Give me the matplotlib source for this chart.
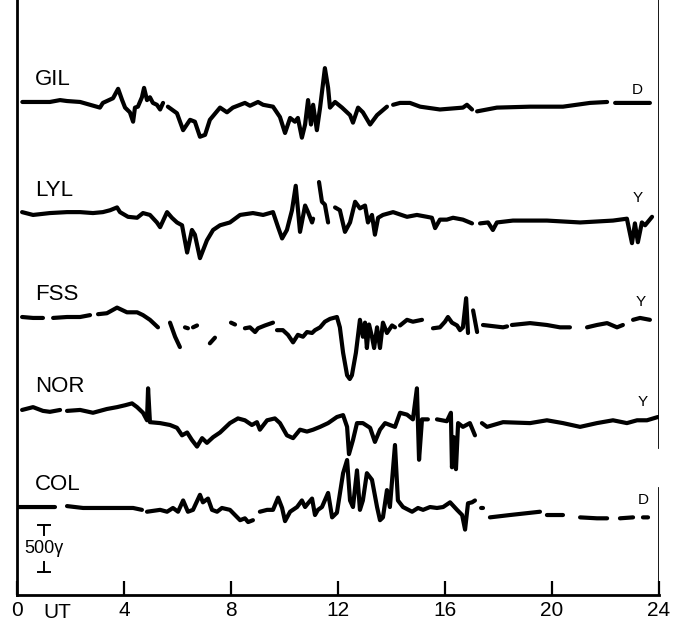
import numpy as np
import matplotlib
matplotlib.use('Agg')
from matplotlib import pyplot as plt

nan = np.nan

# UT hours and deflection in gamma (NaN = gap in the trace)
gil_t = [0.2, 1.23, 1.61, 1.87, 2.36, 3.10, 3.21, 3.59, 3.78, 3.93, 4.04, 4.22, 4.34, 4.41, 4.52, 4.67,
         4.75, 4.86, 4.97, 5.08, 5.23, 5.35, 5.46, nan,
         5.64, 5.98, 6.21, 6.47, 6.65, 6.84, 7.03, 7.21, 7.59, 7.85, 8.07, 8.52, 8.71, 9.01, 9.20, 9.57,
         9.83, 10.02, 10.21, 10.39, 10.50, 10.65, 10.77, 10.88, 10.99, 11.07, 11.21, 11.33, 11.51, 11.63,
         11.70, 11.89, 12.15, 12.45, 12.56, 12.75, 12.93, 13.20, 13.46, 13.83, nan,
         14.06, 14.32, 14.69, 15.07, 15.81, 16.67, 16.82, 17.01, nan,
         17.20, 17.94, 19.18, 20.41, 21.42, 22.06, nan, 22.36, 23.66]
gil_d = [0, 0, 20, 10, 0, -60, -10, 40, 140, 20, -60, -110, -210, -60, -50, 50,
         150, 20, 50, -10, -30, -80, -10, nan,
         -50, -120, -300, -190, -210, -370, -350, -190, -60, -110, -60, -10, -40, 0, -30, -50,
         -160, -330, -170, -210, -170, -380, -240, 20, -240, -30, -300, -60, 360, 150,
         -60, 0, -60, -140, -220, -60, -110, -240, -140, -50, nan,
         -30, -10, -10, -50, -80, -60, -30, -80, nan,
         -100, -60, -50, -50, -10, 0, nan, -10, -10]

lyl_t = [0.19, 0.60, 1.23, 1.87, 2.36, 2.84, 3.21, 3.48, 3.74, 3.85, 4.15, 4.49, 4.71, 4.97, 5.23, 5.35,
         5.61, 5.79, 5.98, 6.17, 6.36, 6.54, 6.65, 6.84, 7.10, 7.33, 7.59, 7.96, 8.34, 8.82, 9.20, 9.57,
         9.76, 9.91, 10.09, 10.28, 10.42, 10.58, 10.77, 10.88, 11.03, 11.07, nan,
         11.29, 11.40, 11.51, 11.63, nan,
         11.89, 12.07, 12.26, 12.45, 12.64, 12.82, 13.01, 13.12, 13.27, 13.38, 13.50, 13.68, 14.06, 14.58,
         14.95, 15.33, 15.51, 15.63, 15.81, 16.07, 16.30, 16.67, 17.01, nan,
         17.31, 17.61, 17.79, 17.94, 18.54, 19.81, 21.05, 22.28, 22.80, 22.99, 23.10, 23.21, 23.36,
         23.48, 23.74]
lyl_d = [10, -20, 0, 10, 10, 0, 10, 30, 60, 10, -40, -50, 0, -20, -100, -150,
         10, -50, -100, -130, -420, -180, -230, -480, -290, -180, -130, -100, -20, 0, -20, 10,
         -150, -270, -180, 30, 290, -200, 80, 10, -100, -60, nan,
         330, 120, 90, -100, nan,
         60, 30, -200, -100, 120, 50, 80, -100, -20, -230, -50, -20, 10, -40,
         -20, -40, -50, -160, -70, -70, -50, -70, -110, nan,
         -110, -100, -180, -100, -80, -80, -100, -80, -60, -320, -110, -310, -100,
         -130, -40]

fss_t = [0.19, 0.60, 0.97, nan, 1.35, 1.87, 2.36, 2.73, nan,
         3.03, 3.36, 3.74, 4.11, 4.49, 4.71, 4.97, 5.27, nan,
         5.72, 5.91, 6.09, nan, 6.28, 6.39, nan, 6.58, 6.73, nan, 7.21, 7.40, nan, 8.0, 8.15, nan,
         8.52, 8.71, 8.90, 9.01, 9.27, 9.57, nan,
         9.72, 9.94, 10.13, 10.32, 10.50, 10.69, 10.84, 11.03, 11.14, 11.33, 11.51, 11.70, 11.96, 12.07,
         12.19, 12.34, 12.44, 12.52, 12.67, 12.82, 12.93, 13.01, 13.08, 13.16, 13.27, 13.35, 13.46, 13.57,
         13.68, 13.83, 14.02, 14.13, nan,
         14.32, 14.58, 14.80, 15.14, nan,
         15.55, 15.81, 16.00, 16.11, 16.26, 16.45, 16.56, 16.67, 16.79, 16.86, nan,
         17.05, 17.20, nan, 17.42, 18.17, 18.32, nan, 18.50, 19.18, 19.81, 20.30, 20.67, nan,
         21.31, 21.68, 22.06, 22.43, 22.65, nan, 23.03, 23.29, 23.66]
fss_d = [0, -10, -10, nan, -10, 0, 0, 20, nan,
         30, 40, 100, 50, 50, 20, -30, -110, nan,
         -60, -210, -320, nan, -110, -120, nan, -110, -90, nan, -280, -220, nan, -60, -80, nan,
         -120, -110, -160, -120, -90, -60, nan,
         -140, -140, -190, -270, -190, -210, -160, -170, -140, -110, -50, -20, 0, -110,
         -380, -620, -660, -620, -380, -30, -210, -60, -330, -80, -210, -330, -110, -330,
         -60, -170, -90, -110, nan,
         -90, -30, -50, -30, nan,
         -120, -110, -50, 0, -60, -90, -140, -110, 200, -170, nan,
         70, -160, nan, -85, -110, -100, nan, -85, -65, -85, -110, -110, nan,
         -110, -85, -65, -110, -85, nan, -30, -10, -30]

nor_t = [0.19, 0.60, 0.97, 1.23, 1.61, nan,
         1.87, 2.36, 2.84, 3.36, 3.74, 4.04, 4.30, 4.49, 4.71, 4.86, 4.90, 4.97, 5.35, 5.72, 5.98, 6.17,
         6.36, 6.54, 6.73, 6.92, 7.10, 7.33, 7.59, 7.96, 8.26, 8.52, 8.78, 8.97, 9.08, 9.35, 9.64, 9.83,
         10.09, 10.32, 10.58, 10.84, 11.07, 11.33, 11.63, 11.96, 12.19, 12.34, 12.41, 12.56, 12.71, 12.93,
         13.20, 13.38, 13.57, 13.76, 13.94, 14.13, 14.32, 14.58, 14.80, 14.95, 15.03, 15.14, 15.36, nan,
         15.70, 16.07, 16.22, 16.26, 16.33, 16.41, 16.49, 16.67, 16.93, 17.12, nan,
         17.38, 17.57, 18.17, 19.18, 19.81, 20.41, 21.05, 21.68, 22.28, 22.80, 23.18, 23.55, 23.96]
nor_d = [-10, 20, -20, -30, -10, nan,
         -20, -10, -40, 0, 20, 40, 60, 20, -40, -120, 220, -140, -150, -170, -200, -280,
         -250, -330, -400, -310, -360, -300, -250, -150, -100, -120, -170, -140, -220, -120, -100, -150,
         -280, -310, -220, -240, -220, -190, -150, -85, -65, -190, -480, -330, -150, -150,
         -200, -350, -220, -150, -170, -190, -40, -60, -110, 220, -540, -110, -110, nan,
         -110, -130, -40, -620, -300, -640, -150, -190, -150, -280, nan,
         -150, -190, -140, -150, -120, -150, -190, -150, -120, -150, -120, -120, -85]

col_t = [0.04, 0.60, 1.42, nan,
         1.87, 2.47, 3.10, 3.85, 4.34, 4.67, nan,
         4.86, 5.35, 5.61, 5.83, 6.02, 6.21, 6.39, 6.58, 6.84, 6.95, 7.14, 7.29, 7.48, 7.66, 7.96, 8.15,
         8.34, 8.52, 8.64, 8.82, nan,
         9.08, 9.35, 9.57, 9.76, 9.91, 10.02, 10.21, 10.47, 10.65, 10.77, 10.88, 11.03, 11.14, 11.25,
         11.40, 11.63, 11.78, 11.96, 12.19, 12.34, 12.45, 12.56, 12.71, 12.82, 12.93, 13.08, 13.27, 13.46,
         13.57, 13.68, 13.83, 13.94, 14.13, 14.24, 14.43, 14.77, 14.99, 15.18, 15.44, 15.70, 15.93, 16.19,
         16.45, 16.64, 16.75, 16.86, 17.01, 17.12, nan,
         17.35, 17.42, nan, 17.68, 18.43, 19.55, nan, 19.81, 20.41, nan, 21.05, 21.68, 22.06, nan,
         22.54, 23.03, nan, 23.40, 23.59]
col_d = [0, 0, 0, nan,
         10, -10, -10, -10, -10, -30, nan,
         -50, -30, -50, -10, -50, 70, -50, -30, 130, 50, 90, -30, -50, -10, -30, -85,
         -140, -120, -160, -140, nan,
         -50, -30, -30, 100, -10, -150, -50, 0, 70, 0, 40, 90, -85, -30,
         0, 150, -110, -60, 360, 500, 70, 0, 390, -30, 70, 360, 290, 0,
         -140, -110, 180, 0, 660, 70, 0, -50, -10, -30, 0, -10, 0, 50,
         -30, -85, -240, 40, 50, 70, nan,
         -10, -10, nan, -110, -85, -50, nan, -85, -85, nan, -110, -120, -120, nan,
         -120, -110, nan, -110, -110]

stations = ['GIL', 'LYL', 'FSS', 'NOR', 'COL']
components = ['D', 'Y', 'Y', 'Y', 'D']
traces = [(gil_t, gil_d), (lyl_t, lyl_d), (fss_t, fss_d), (nor_t, nor_d), (col_t, col_d)]

hour_ticks = [0, 4, 8, 12, 16, 20, 24]
hour_labels = ['0', '4', '8', '12', '16', '20', '24']
scale_gamma = 500

# layout: vertical offsets of each trace (gamma) and small-letter offsets
offsets = [5246, 4064, 2958, 1979, 936]
comp_dy = [130, 160, 160, 75, 75]
comp_x = [23.2, 23.2, 23.3, 23.4, 23.4]

plt.rcParams['font.family'] = ['Liberation Sans', 'DejaVu Sans']

fig = plt.figure(figsize=(6.74, 6.25), dpi=100)
ax = fig.add_axes([17 / 674, 30 / 625, 642 / 674, 595 / 625])
ax.set_xlim(0, 24)
ax.set_ylim(0, 6331)

for name, comp, (t, d), off, cdy, cx in zip(stations, components, traces, offsets, comp_dy, comp_x):
    y = np.array(d, dtype=float) + off
    ax.plot(t, y, color='black', lw=3.0, solid_joinstyle='round', solid_capstyle='round')
    ax.text(0.68, off + 235, name, fontsize=16, ha='left', va='center')
    ax.text(cx, off + cdy, comp, fontsize=11, ha='center', va='center')

# scale bar 500 gamma
sb_x, sb_y0 = 1.0, 245
ax.plot([sb_x, sb_x], [sb_y0 + scale_gamma, sb_y0 + scale_gamma - 110], color='black', lw=1.4)
ax.plot([sb_x - 0.22, sb_x + 0.22], [sb_y0 + scale_gamma] * 2, color='black', lw=1.4)
ax.plot([sb_x, sb_x], [sb_y0, sb_y0 + 110], color='black', lw=1.4)
ax.plot([sb_x - 0.22, sb_x + 0.22], [sb_y0] * 2, color='black', lw=1.4)
ax.text(sb_x, sb_y0 + scale_gamma / 2, '500γ', fontsize=13, ha='center', va='center')

ax.spines['top'].set_visible(False)
ax.spines['right'].set_visible(False)
for s in ['left', 'bottom']:
    ax.spines[s].set_linewidth(2.0)
ax.axvline(24, ymin=0, ymax=107 / 595, color='black', lw=2.0)
ax.axvline(24, ymin=148 / 595, ymax=1, color='black', lw=2.0)

ax.set_xticks(hour_ticks)
ax.set_xticklabels(hour_labels)
ax.set_yticks([])
ax.tick_params(axis='x', direction='in', length=10, width=1.6, labelsize=15, pad=4)
ax.text(1.5, -17 / 595, 'UT', transform=ax.get_xaxis_transform(), fontsize=15, ha='center', va='center')

fig.savefig('out.png', dpi=100)
